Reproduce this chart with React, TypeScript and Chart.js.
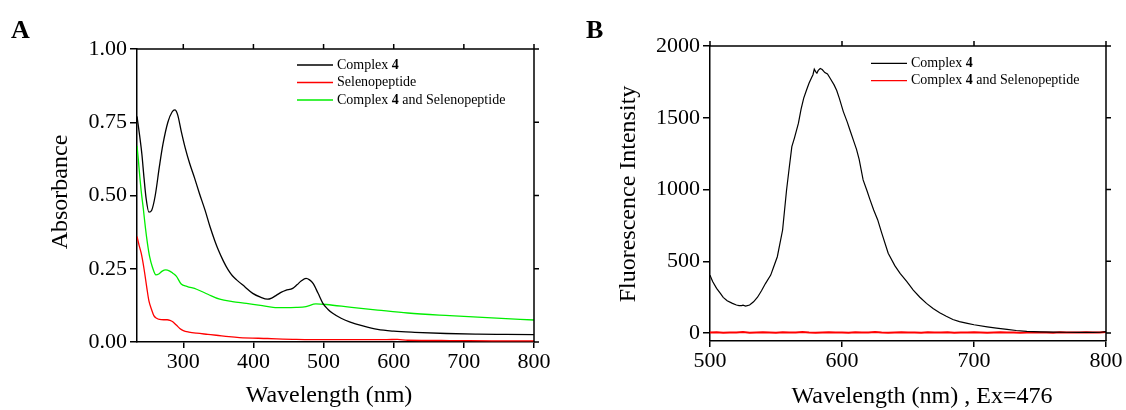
import React, { useEffect, useRef } from 'react';
import { Chart, registerables } from 'chart.js';

Chart.register(...registerables);

const FONT = "'Liberation Serif', 'Times New Roman', serif";

// ---------- Panel A: absorbance ----------
const A_X_TICKS = [300, 400, 500, 600, 700, 800];
const A_Y_TICKS = [0, 0.25, 0.5, 0.75, 1.0];

const A_BLACK_X = [234, 238, 241, 244, 247, 251, 255, 260, 266, 271, 278, 284, 288, 292, 297, 303, 309, 316, 323, 331, 338, 345, 350, 357, 364, 370, 376, 388, 399, 410, 420, 426, 433, 440, 446, 456, 462, 468, 475, 480, 485, 492, 499, 506, 513, 525, 537, 556, 577, 600, 630, 675, 720, 760, 800];
const A_BLACK_Y = [0.77, 0.70, 0.64, 0.56, 0.49, 0.443, 0.45, 0.50, 0.60, 0.675, 0.75, 0.785, 0.792, 0.775, 0.72, 0.66, 0.61, 0.56, 0.507, 0.45, 0.394, 0.345, 0.314, 0.277, 0.246, 0.226, 0.212, 0.188, 0.166, 0.153, 0.146, 0.150, 0.160, 0.170, 0.176, 0.183, 0.195, 0.208, 0.217, 0.212, 0.20, 0.167, 0.132, 0.112, 0.098, 0.081, 0.069, 0.055, 0.043, 0.037, 0.033, 0.029, 0.027, 0.026, 0.025];

const A_RED_X = [234, 237, 240, 244, 248, 251, 255, 258, 262, 266, 272, 277, 281, 285, 290, 295, 300, 308, 319, 335, 347, 365, 380, 420, 461, 520, 560, 590, 605, 620, 680, 740, 800];
const A_RED_Y = [0.36, 0.33, 0.303, 0.25, 0.185, 0.14, 0.109, 0.09, 0.081, 0.077, 0.076, 0.076, 0.074, 0.069, 0.058, 0.046, 0.039, 0.034, 0.030, 0.026, 0.023, 0.018, 0.015, 0.012, 0.009, 0.008, 0.008, 0.008, 0.009, 0.006, 0.005, 0.004, 0.004];

const A_GREEN_X = [234, 236, 238, 240, 243, 246, 249, 252, 256, 261, 265, 270, 275, 280, 285, 290, 297, 305, 319, 335, 352, 370, 390, 410, 428, 445, 461, 475, 489, 504, 540, 577, 620, 680, 740, 800];
const A_GREEN_Y = [0.67, 0.62, 0.564, 0.515, 0.455, 0.39, 0.335, 0.291, 0.255, 0.229, 0.232, 0.242, 0.246, 0.243, 0.235, 0.225, 0.198, 0.190, 0.180, 0.163, 0.146, 0.138, 0.132, 0.125, 0.118, 0.117, 0.118, 0.121, 0.130, 0.128, 0.118, 0.109, 0.099, 0.090, 0.082, 0.075];

const A_NAMES: [string, boolean][][] = [
  [['Complex ', false], ['4', true]],
  [['Selenopeptide', false]],
  [['Complex ', false], ['4', true], [' and Selenopeptide', false]],
];

// ---------- Panel B: fluorescence ----------
const B_X_TICKS = [500, 600, 700, 800];
const B_Y_TICKS = [0, 500, 1000, 1500, 2000];

const B_BLACK_X = [500, 502, 505, 508, 510, 513, 517, 520, 522, 524, 525, 527, 530, 533, 536, 539, 542, 546, 548, 551, 555, 558, 560, 562, 564, 567, 569, 571, 573, 575, 577, 578, 579, 580, 581, 582, 583.5, 585, 587, 589, 591, 594, 596, 598, 601, 604, 606, 609, 611, 613, 616, 619, 621, 624, 627, 630, 635, 640, 644, 649, 654, 659, 664, 669, 674, 679, 684, 689, 695, 700, 710, 717, 725, 732, 740, 750, 760, 770, 780, 790, 796, 800];
const B_BLACK_Y = [404, 360, 312, 275, 249, 226, 207, 196, 191, 192, 195, 188, 196, 218, 250, 295, 345, 404, 455, 532, 718, 997, 1150, 1299, 1360, 1462, 1560, 1637, 1690, 1741, 1780, 1800, 1839, 1822, 1811, 1830, 1843, 1836, 1815, 1805, 1775, 1729, 1690, 1635, 1543, 1470, 1415, 1334, 1280, 1210, 1067, 990, 935, 858, 790, 700, 556, 470, 416, 360, 300, 250, 207, 172, 142, 117, 95, 80, 68, 58, 44, 35, 26, 18, 12, 9, 7, 6, 5, 5, 6, 10];

const B_RED_X = [500, 505, 510, 515, 520, 525, 530, 535, 540, 545, 550, 555, 560, 565, 570, 575, 580, 585, 590, 595, 600, 605, 610, 615, 620, 625, 630, 635, 640, 645, 650, 655, 660, 665, 670, 675, 680, 685, 690, 695, 700, 705, 710, 715, 720, 725, 730, 735, 740, 745, 750, 755, 760, 765, 770, 775, 780, 785, 790, 795, 800];
const B_RED_Y = [4, 6, 3, 5, 4, 7, 3, 5, 6, 4, 3, 6, 5, 4, 7, 4, 3, 5, 6, 4, 5, 3, 6, 4, 5, 7, 4, 3, 5, 6, 4, 5, 3, 6, 5, 4, 6, 3, 5, 4, 6, 5, 3, 4, 6, 5, 4, 3, 5, 6, 4, 5, 3, 6, 4, 5, 4, 6, 5, 4, 8];

const B_NAMES: [string, boolean][][] = [
  [['Complex ', false], ['4', true]],
  [['Complex ', false], ['4', true], [' and Selenopeptide', false]],
];

const BLACK = '#000000';
const RED = '#ff0000';
const GREEN = '#00ee00';

function zip(xs: number[], ys: number[]) {
  const n = Math.min(xs.length, ys.length);
  const out: { x: number; y: number }[] = [];
  for (let i = 0; i < n; i++) out.push({ x: xs[i], y: ys[i] });
  return out;
}

type Decor = {
  letter: string;
  letterX: number;
  xTitle: string;
  xTitleX: number;
  xTitleBase: number;
  yTitle: string;
  yTitleX: number;
  yTitleY: number;
  legendX: number;
  legendTop: number;
  legendGap: number;
  legend: { color: string; segs: [string, boolean][] }[];
};

function decorPlugin(d: Decor) {
  return {
    id: 'decor',
    afterDraw(chart: any) {
      const { ctx, chartArea } = chart;
      const { left, right, top, bottom } = chartArea;
      const xs = chart.scales.x;
      const ys = chart.scales.y;
      ctx.save();
      // frame (top & right) with mirrored outward ticks
      ctx.strokeStyle = '#000';
      ctx.lineWidth = 1.5;
      ctx.beginPath();
      ctx.moveTo(left, top);
      ctx.lineTo(right, top);
      ctx.lineTo(right, bottom);
      xs.ticks.forEach((t: any) => {
        const p = xs.getPixelForValue(t.value);
        ctx.moveTo(p, top);
        ctx.lineTo(p, top - 5);
      });
      ys.ticks.forEach((t: any) => {
        const p = ys.getPixelForValue(t.value);
        ctx.moveTo(right, p);
        ctx.lineTo(right + 5, p);
      });
      ctx.stroke();

      // legend
      d.legend.forEach((item, i) => {
        const y = top + d.legendTop + i * d.legendGap;
        const x0 = left + d.legendX;
        ctx.strokeStyle = item.color;
        ctx.lineWidth = 1.3;
        ctx.beginPath();
        ctx.moveTo(x0, y);
        ctx.lineTo(x0 + 36, y);
        ctx.stroke();
        let x = x0 + 40;
        ctx.fillStyle = '#000';
        ctx.textBaseline = 'middle';
        ctx.textAlign = 'left';
        item.segs.forEach(([t, b]) => {
          ctx.font = `${b ? 'bold ' : ''}14px ${FONT}`;
          ctx.fillText(t, x, y);
          x += ctx.measureText(t).width;
        });
      });

      // panel letter
      ctx.fillStyle = '#000';
      ctx.font = `bold 26px ${FONT}`;
      ctx.textAlign = 'left';
      ctx.textBaseline = 'alphabetic';
      ctx.fillText(d.letter, d.letterX, 38);

      // x title
      ctx.font = `24px ${FONT}`;
      ctx.textAlign = 'center';
      ctx.fillText(d.xTitle, d.xTitleX, d.xTitleBase);

      // y title
      ctx.translate(d.yTitleX, d.yTitleY);
      ctx.rotate(-Math.PI / 2);
      ctx.textBaseline = 'middle';
      ctx.fillText(d.yTitle, 0, 0);
      ctx.restore();
    },
  };
}

function scaleOpts(
  min: number,
  max: number,
  ticks: number[],
  fmt: (v: number) => string,
  horizontal: boolean,
  size: number
) {
  return {
    type: 'linear' as const,
    min,
    max,
    afterBuildTicks: (s: any) => {
      s.ticks = ticks.map((v) => ({ value: v }));
    },
    afterFit: (s: any) => {
      if (horizontal) s.height = size;
      else s.width = size;
    },
    ticks: {
      font: { family: FONT, size: 22 },
      color: '#000',
      padding: horizontal ? 1 : 3,
      autoSkip: false,
      maxRotation: 0,
      includeBounds: false,
      callback: (v: any) => fmt(Number(v)),
    },
    grid: {
      display: true,
      drawOnChartArea: false,
      drawTicks: true,
      tickLength: horizontal ? 6 : 7,
      color: '#000',
      lineWidth: 1.5,
    },
    border: { display: true, color: '#000', width: 1.5 },
    title: { display: false },
  };
}

function line(data: { x: number; y: number }[], color: string, width: number, smooth: boolean) {
  return {
    data,
    borderColor: color,
    backgroundColor: color,
    borderWidth: width,
    pointRadius: 0,
    fill: false,
    tension: 0,
    cubicInterpolationMode: smooth ? ('monotone' as const) : ('default' as const),
  };
}

function configA(): any {
  return {
    type: 'line',
    data: {
      datasets: [
        line(zip(A_BLACK_X, A_BLACK_Y), BLACK, 1.3, true),
        line(zip(A_RED_X, A_RED_Y), RED, 1.3, true),
        line(zip(A_GREEN_X, A_GREEN_Y), GREEN, 1.3, true),
      ],
    },
    options: {
      animation: false,
      responsive: false,
      events: [],
      layout: { padding: { left: 0, top: 49, right: 26, bottom: 0 } },
      plugins: { legend: { display: false }, tooltip: { enabled: false }, title: { display: false } },
      scales: {
        x: scaleOpts(234, 800, A_X_TICKS, (v) => String(v), true, 68),
        y: scaleOpts(0, 1, A_Y_TICKS, (v) => v.toFixed(2), false, 137),
      },
    },
    plugins: [
      decorPlugin({
        letter: 'A',
        letterX: 11,
        xTitle: 'Wavelength (nm)',
        xTitleX: 329,
        xTitleBase: 401.5,
        yTitle: 'Absorbance',
        yTitleX: 61,
        yTitleY: 192,
        legendX: 160,
        legendTop: 16,
        legendGap: 17.5,
        legend: [
          { color: BLACK, segs: A_NAMES[0] },
          { color: RED, segs: A_NAMES[1] },
          { color: GREEN, segs: A_NAMES[2] },
        ],
      }),
    ],
  };
}

function configB(): any {
  return {
    type: 'line',
    data: {
      datasets: [
        line(zip(B_BLACK_X, B_BLACK_Y), BLACK, 1.2, false),
        line(zip(B_RED_X, B_RED_Y), RED, 2, false),
      ],
    },
    options: {
      animation: false,
      responsive: false,
      events: [],
      layout: { padding: { left: 0, top: 46, right: 20, bottom: 0 } },
      plugins: { legend: { display: false }, tooltip: { enabled: false }, title: { display: false } },
      scales: {
        x: scaleOpts(500, 800, B_X_TICKS, (v) => String(v), true, 69),
        y: scaleOpts(-55, 2000, B_Y_TICKS, (v) => String(v), false, 150),
      },
    },
    plugins: [
      decorPlugin({
        letter: 'B',
        letterX: 26,
        xTitle: 'Wavelength (nm) , Ex=476',
        xTitleX: 362,
        xTitleBase: 403,
        yTitle: 'Fluorescence Intensity',
        yTitleX: 69,
        yTitleY: 194,
        legendX: 161,
        legendTop: 17.3,
        legendGap: 17.4,
        legend: [
          { color: BLACK, segs: B_NAMES[0] },
          { color: RED, segs: B_NAMES[1] },
        ],
      }),
    ],
  };
}

function Panel({ make, left, width }: { make: () => any; left: number; width: number }) {
  const ref = useRef<HTMLCanvasElement | null>(null);
  useEffect(() => {
    if (!ref.current) return;
    const chart = new Chart(ref.current, make());
    return () => chart.destroy();
  }, [make]);
  return (
    <canvas
      ref={ref}
      width={width}
      height={410}
      style={{ position: 'absolute', left, top: 0, width, height: 410, display: 'block' }}
    />
  );
}

export default function App() {
  return (
    <div style={{ position: 'absolute', left: 0, top: 0, width: 1126, height: 410, background: '#fff', overflow: 'hidden' }}>
      <Panel make={configA} left={0} width={560} />
      <Panel make={configB} left={560} width={566} />
    </div>
  );
}
